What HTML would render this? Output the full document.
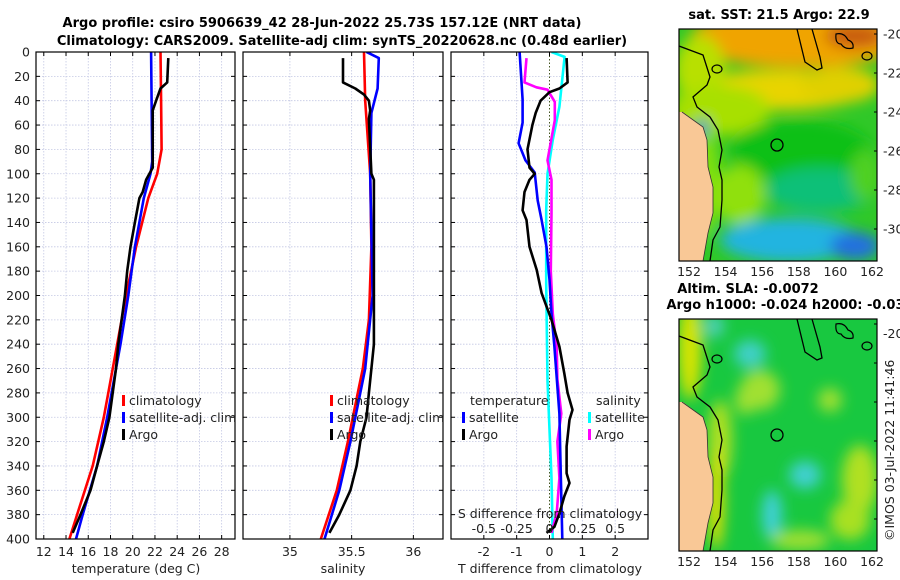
<!DOCTYPE html>
<html><head><meta charset="utf-8"><style>
html,body{margin:0;padding:0;background:#fff;width:900px;height:580px;overflow:hidden}
svg{display:block}
text{font-family:"DejaVu Sans","Liberation Sans",sans-serif;fill:#222}
.t{font-size:12.5px}
.b{font-weight:bold;font-size:13px;fill:#000}
</style></head><body>
<svg id="chart" width="900" height="580" viewBox="0 0 900 580">
<defs>
<clipPath id="c1"><rect x="36" y="52" width="199" height="487"/></clipPath>
<clipPath id="c2"><rect x="243" y="52" width="200" height="487"/></clipPath>
<clipPath id="c3"><rect x="451" y="52" width="197" height="487"/></clipPath>
<clipPath id="m1"><rect x="679" y="29" width="198" height="232"/></clipPath>
<clipPath id="m2"><rect x="679" y="319" width="198" height="232"/></clipPath>
<filter id="bl" x="-20%" y="-20%" width="140%" height="140%"><feGaussianBlur stdDeviation="7"/></filter>
</defs>
<text class="b" x="322" y="27" text-anchor="middle">Argo profile: csiro 5906639_42 28-Jun-2022 25.73S 157.12E (NRT data)</text>
<text class="b" x="342" y="45" text-anchor="middle">Climatology: CARS2009. Satellite-adj clim: synTS_20220628.nc (0.48d earlier)</text>
<g id="grids"></g>
<g id="series"></g>
<g id="frames"></g>
<g id="maps"></g>
</svg>
<script>
// ---- data ----
const depthTicks=[0,20,40,60,80,100,120,140,160,180,200,220,240,260,280,300,320,340,360,380,400];
const tempTicks=[12,14,16,18,20,22,24,26,28];
const salTicks=[35,35.5,36];
const tdiffTicks=[-2,-1,0,1,2];
const sdiffTicks=[-0.5,-0.25,0,0.25,0.5];
const sdiffLabels=["-0.5","-0.25","0","0.25","0.5"];

const tClimDepth=[0,40,80,100,120,160,200,240,280,300,340,380,400];
const tClimVal=[22.5,22.55,22.6,22.2,21.4,20.3,19.4,18.6,17.8,17.4,16.4,15.0,14.3];
const tSatDepth=[0,90,100,120,160,200,240,280,300,340,380,400];
const tSatVal=[21.65,21.75,21.6,21.0,20.2,19.6,18.9,18.1,17.7,16.8,15.5,14.9];
const tArgoDepth=[5,25,30,40,48,95,100,105,115,120,140,160,180,200,220,240,260,280,300,320,340,360,380,395];
const tArgoVal=[23.2,23.1,22.5,22.1,21.8,21.8,21.5,21.2,20.9,20.6,20.2,19.8,19.5,19.3,19.0,18.7,18.5,18.2,17.9,17.4,16.8,16.2,15.3,14.6];

const sClimDepth=[0,40,100,160,220,260,280,320,360,400];
const sClimVal=[35.6,35.61,35.65,35.66,35.64,35.59,35.55,35.47,35.38,35.25];
const sSatDepth=[0,5,30,50,100,200,260,280,320,360,400];
const sSatVal=[35.62,35.72,35.71,35.66,35.65,35.67,35.61,35.57,35.49,35.40,35.28];
const sArgoDepth=[5,25,30,35,40,48,55,100,105,120,180,240,260,280,300,320,340,360,380,395];
const sArgoVal=[35.43,35.43,35.53,35.60,35.64,35.65,35.64,35.66,35.68,35.68,35.68,35.68,35.66,35.64,35.62,35.57,35.54,35.49,35.40,35.32];

const dtSatDepth=[0,39,58,75,89,99,122,138,160,187,215,242,297,330,400];
const dtSatVal=[-0.91,-0.82,-0.82,-0.94,-0.73,-0.45,-0.36,-0.24,-0.09,0,0.06,0.15,0.3,0.33,0.39];
const dtArgoDepth=[5,25,30,33,40,50,60,80,95,100,105,115,130,138,160,179,198,220,242,264,280,294,302,324,346,354,365,379,390,395];
const dtArgoVal=[0.52,0.55,0.3,0,-0.27,-0.42,-0.52,-0.67,-0.61,-0.45,-0.61,-0.76,-0.82,-0.7,-0.61,-0.39,-0.24,0.06,0.3,0.45,0.55,0.7,0.61,0.52,0.52,0.61,0.45,0.3,0.15,-0.09];
const dsSatDepth=[0,4,45,72,100,130,190,270,350,400];
const dsSatVal=[0.015,0.115,0.075,0.025,-0.015,-0.025,-0.025,-0.015,0.015,0.025];
const dsArgoDepth=[5,25,29,31,41,56,80,89,105,132,180,215,242,269,297,320,350,379,395];
const dsArgoVal=[-0.175,-0.19,-0.1,-0.015,0.04,0.04,0,-0.015,0.015,0.015,0.01,0.025,0.055,0.06,0.09,0.06,0.075,0.055,0.015];

// ---- axes ----
const NS='http://www.w3.org/2000/svg';
const Y0=52,Y1=539;
function yD(d){return Y0+d*(Y1-Y0)/400;}
function lin(a0,a1,p0,p1){return v=>p0+(v-a0)*(p1-p0)/(a1-a0);}
const xT=lin(11.3,29.2,36,235);
const xS=lin(34.62,36.24,243,443);
const xDT=lin(-3,3,451,648);
const xDS=lin(-0.75,0.75,451,648);
function mk(tag,attrs,parent){const e=document.createElementNS(NS,tag);for(const k in attrs)e.setAttribute(k,attrs[k]);parent.appendChild(e);return e;}
const G=document.getElementById('grids'),S=document.getElementById('series'),F=document.getElementById('frames');
const panels=[{x0:36,x1:235,xs:xT,ticks:tempTicks,name:'temperature-panel'},{x0:243,x1:443,xs:xS,ticks:salTicks,name:'salinity-panel'},{x0:451,x1:648,xs:xDT,ticks:tdiffTicks,name:'difference-panel'}];
panels.forEach((p,i)=>{
  depthTicks.forEach(d=>{const l=mk('line',{x1:p.x0,x2:p.x1,y1:yD(d),y2:yD(d),stroke:'#c4c8e4','stroke-width':0.8,'stroke-dasharray':'1.5,1.5'},G);
    
    
    mk('line',{x1:p.x0,x2:p.x0+4,y1:yD(d),y2:yD(d),stroke:'#000'},F);mk('line',{x1:p.x1-4,x2:p.x1,y1:yD(d),y2:yD(d),stroke:'#000'},F);});
  p.ticks.forEach(t=>{const x=p.xs(t);
    if(!(i==2&&t==0)){const l=mk('line',{x1:x,x2:x,y1:Y0,y2:Y1,stroke:'#c4c8e4','stroke-width':0.8,'stroke-dasharray':'1.5,1.5'},G);
    
    }
    mk('line',{x1:x,x2:x,y1:Y1,y2:Y1-4,stroke:'#000'},F);mk('line',{x1:x,x2:x,y1:Y0,y2:Y0+4,stroke:'#000'},F);
    const tx=mk('text',{x:x,y:556,'text-anchor':'middle',class:'t'},F);tx.textContent=String(t);
    
    });
  const r=mk('rect',{x:p.x0,y:Y0,width:p.x1-p.x0,height:Y1-Y0,fill:'none',stroke:'#000','stroke-width':1.2},F);
  
  
});
mk('line',{x1:xDT(0),x2:xDT(0),y1:Y0,y2:Y1,stroke:'#445522','stroke-width':1,'stroke-dasharray':'1.5,2'},G);
depthTicks.forEach(d=>{const t=mk('text',{x:30,y:yD(d)+4.5,'text-anchor':'end',class:'t'},F);t.textContent=d;
  
  });
[['temperature (deg C)',136,'temperature-axis-title'],['salinity',343,'salinity-axis-title'],['T difference from climatology',550,'t-diff-axis-title']].forEach(a=>{
  const t=mk('text',{x:a[1],y:573,'text-anchor':'middle',class:'t'},F);t.textContent=a[0];
  
  });
const st=mk('text',{x:550,y:518,'text-anchor':'middle',class:'t'},F);st.textContent='S difference from climatology';


sdiffTicks.forEach((v,i)=>{const t=mk('text',{x:xDS(v),y:533,'text-anchor':'middle',class:'t'},F);t.textContent=sdiffLabels[i];
  
  });

function line(ds,vs,xs,color,clip,name){
  const pts=ds.map((d,i)=>xs(vs[i]).toFixed(1)+','+yD(d).toFixed(1)).join(' ');
  const pl=mk('polyline',{points:pts,fill:'none',stroke:color,'stroke-width':2.6,'stroke-linejoin':'round','clip-path':'url(#'+clip+')'},S);
  
  
}
line(tClimDepth,tClimVal,xT,'#f00','c1','temp-climatology-line');
line(tSatDepth,tSatVal,xT,'#00f','c1','temp-satellite-line');
line(tArgoDepth,tArgoVal,xT,'#000','c1','temp-argo-line');
line(sClimDepth,sClimVal,xS,'#f00','c2','sal-climatology-line');
line(sSatDepth,sSatVal,xS,'#00f','c2','sal-satellite-line');
line(sArgoDepth,sArgoVal,xS,'#000','c2','sal-argo-line');
line(dsSatDepth,dsSatVal,xDS,'#0ff','c3','sdiff-satellite-line');
line(dsArgoDepth,dsArgoVal,xDS,'#f0f','c3','sdiff-argo-line');
line(dtSatDepth,dtSatVal,xDT,'#00f','c3','tdiff-satellite-line');
line(dtArgoDepth,dtArgoVal,xDT,'#000','c3','tdiff-argo-line');

function legend(x,y,items,name){items.forEach((it,i)=>{
  if(it[1]){const m=mk('rect',{x:x,y:y+i*17-10,width:3,height:11,fill:it[1]},F);
    
    }
  const t=mk('text',{x:x+(it[1]?7:0),y:y+i*17,class:'t'},F);t.textContent=it[0];
  
  });}
legend(122,405,[['climatology','#f00'],['satellite-adj. clim','#00f'],['Argo','#000']],'temp-legend');
legend(330,405,[['climatology','#f00'],['satellite-adj. clim','#00f'],['Argo','#000']],'sal-legend');
legend(470,405,[['temperature',null]],'diff-legend');
legend(462,422,[['satellite','#00f'],['Argo','#000']],'tdiff-legend');
legend(596,405,[['salinity',null]],'diff-legend');
legend(588,422,[['satellite','#0ff'],['Argo','#f0f']],'sdiff-legend');
</script>
<script>
// ---- maps (decorative raster approximations) ----
(function(){
const NS='http://www.w3.org/2000/svg',M=document.getElementById('maps');
function mk(tag,a,p){const e=document.createElementNS(NS,tag);for(const k in a)e.setAttribute(k,a[k]);p.appendChild(e);return e;}
const land="679,112 683,112 703,127 707,140 708,167 713,187 713,213 708,233 703,261 679,261";
const coast="679,46 703,55 710,77 707,85 693,97 697,107 710,117 718,130 722,150 719,167 722,180 722,200 720,227 713,240 710,261";
const coastIn="682,112 703,127 707,140 708,167 713,187 713,213 708,233 703,261";
const reef="797,29 805,62 817,70 822,68 820,57 812,29";
function map(dy,clip,blobs,base,name,labels){
  const g=mk('g',{'clip-path':'url(#'+clip+')'},M);
  
  
  mk('rect',{x:679,y:29+dy,width:198,height:232,fill:base},g);
  const bg=mk('g',{filter:'url(#bl)'},g);
  blobs.forEach(b=>mk('ellipse',{cx:b[0],cy:b[1]+dy,rx:b[2],ry:b[3],fill:b[4]},bg));
  const tr=s=>s.split(' ').map(p=>{const q=p.split(',');return q[0]+','+(+q[1]+dy);}).join(' ');
  mk('polygon',{points:tr(land),fill:'#f9c896'},g);
  mk('polyline',{points:tr(coast),fill:'none',stroke:'#000','stroke-width':1.3},g);
  mk('polyline',{points:tr(coastIn),fill:'none',stroke:'#333','stroke-width':0.8},g);
  mk('polyline',{points:tr(reef),fill:'none',stroke:'#000','stroke-width':1.3},g);
  mk('path',{d:'M836 '+(34+dy)+' q8 -2 12 6 q6 2 5 8 q-8 2 -12 -4 q-6 0 -5 -10z',fill:'none',stroke:'#000','stroke-width':1.2},g);
  mk('ellipse',{cx:867,cy:56+dy,rx:5,ry:4,fill:'none',stroke:'#000','stroke-width':1.2},g);
  mk('ellipse',{cx:717,cy:69+dy,rx:5,ry:4,fill:'none',stroke:'#000','stroke-width':1.2},g);
  const c=mk('circle',{cx:777,cy:145+dy,r:6,fill:'none',stroke:'#000','stroke-width':1.3},g);
  
  
  mk('rect',{x:679,y:29+dy,width:198,height:232,fill:'none',stroke:'#000','stroke-width':1.2},M);
  [-20,-22,-24,-26,-28,-30].forEach(v=>{const y=29+dy+( -20-v)*19.5+5;
    mk('line',{x1:874,x2:877,y1:y,y2:y,stroke:'#000'},M);
    if(!labels)return;
    const t=mk('text',{x:883,y:y+4.5,class:'t'},M);t.textContent=v;
    
    });
  [152,154,156,158,160,162].forEach(v=>{const x=689+(v-152)*18.3;
    const t=mk('text',{x:x,y:276+dy,'text-anchor':'middle',class:'t'},M);t.textContent=v;
    
    });
}
map(0,'m1',[
 [800,38,110,30,'#f0a400'],[780,90,90,20,'#e8d400'],[855,36,30,12,'#c85a10'],[700,70,25,35,'#b8e000'],[720,110,50,25,'#a8e000'],
 [840,85,40,18,'#e0d000'],[800,150,70,30,'#10c018'],[700,180,20,60,'#80e010'],[740,195,25,30,'#90e010'],
 [820,190,55,22,'#10c078'],[790,240,70,22,'#20b4e0'],[855,246,25,14,'#2070e0'],[865,175,15,25,'#50d020'],[702,128,6,8,'#2060e0']
],'#30c828','sst-map',true);
map(290,'m2',[
 [690,60,12,50,'#d8e400'],[714,36,10,12,'#50d0b8'],[750,64,16,14,'#40d0c8'],[760,100,20,20,'#a0e030'],
 [720,150,12,40,'#b0e020'],[716,210,8,50,'#e8e000'],[805,185,16,14,'#40d0d0'],[772,225,10,25,'#40d0d8'],
 [860,190,18,35,'#b0e020'],[850,230,20,20,'#a8e020'],[800,250,30,10,'#a0e030'],[830,110,12,12,'#a0e030'],[745,110,10,15,'#a0e030']
],'#18c840','sla-map',false);
const l20=mk('text',{x:883,y:338,class:'t'},M);l20.textContent='-20';


[['sat. SST: 21.5 Argo: 22.9',779,19,'sst-map-title'],['Altim. SLA: -0.0072',748,293,'sla-map-title'],['Argo h1000: -0.024 h2000: -0.031',790,309,'sla-map-subtitle']].forEach(a=>{
  const t=mk('text',{x:a[1],y:a[2],'text-anchor':'middle',class:'b'},M);t.textContent=a[0];
  
  });
const cr=mk('text',{x:0,y:0,class:'t',transform:'translate(894,541) rotate(-90)'},M);cr.textContent='©IMOS 03-Jul-2022 11:41:46';


})();
</script>
</body></html>
